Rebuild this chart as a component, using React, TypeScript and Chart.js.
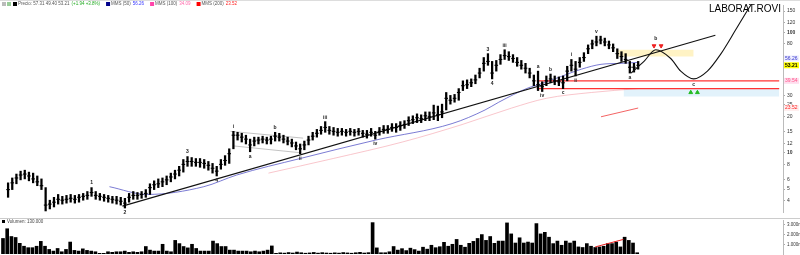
import React, { useEffect, useRef } from 'react';
import { Chart, registerables } from 'chart.js';

Chart.register(...registerables);

const FONT = '"Liberation Sans", Arial, sans-serif';

// Weekly price bars (high / low / close)
const highs = [
  5.63, 6.18, 6.66, 7.04, 7.17, 6.91, 6.78, 6.42, 6.07, 5.14,
  4.04, 4.27, 4.51, 4.35, 4.43, 4.51, 4.43, 4.51, 4.60, 4.77,
  5.14, 4.77, 4.60, 4.51, 4.43, 4.35, 4.35, 4.27, 4.19, 4.60,
  4.77, 4.68, 4.77, 4.95, 5.53, 5.85, 6.07, 6.18, 6.42, 6.78,
  7.17, 7.72, 8.79, 9.30, 9.13, 8.96, 8.96, 8.79, 8.47, 8.16,
  7.72, 8.79, 9.47, 10.79, 15.06, 14.79, 14.51, 13.99, 12.98, 13.48,
  13.48, 13.73, 13.48, 13.73, 14.79, 14.51, 13.99, 13.48, 12.98, 12.28,
  11.83, 12.51, 13.73, 14.79, 15.63, 16.53, 18.13, 16.53, 16.22, 15.93,
  15.93, 15.63, 15.93, 15.63, 15.93, 15.34, 15.34, 15.93, 15.06, 16.22,
  16.84, 16.84, 17.47, 17.47, 18.13, 18.47, 19.90, 20.27, 21.04, 20.65,
  21.83, 21.83, 24.86, 24.41, 25.33, 31.65, 29.93, 30.50, 34.09, 39.54,
  40.28, 41.04, 44.20, 50.33, 61.73, 66.48, 57.31, 58.38, 65.26, 71.61,
  69.00, 65.26, 61.73, 58.38, 55.22, 50.33, 44.20, 47.60, 38.81, 43.39,
  45.03, 43.39, 42.59, 43.39, 52.23, 59.48, 57.31, 61.73, 67.73, 78.57,
  86.21, 92.85, 92.85, 89.47, 84.62, 80.04, 72.95, 69.00, 66.48, 57.31,
  55.22, 57.31,
];
const lows = [
  4.27, 4.95, 5.53, 5.96, 6.07, 5.85, 5.63, 5.33, 4.95, 3.29,
  3.42, 3.55, 3.75, 3.75, 3.82, 3.89, 3.82, 3.89, 4.04, 4.11,
  4.35, 4.11, 4.04, 3.96, 3.89, 3.82, 3.75, 3.68, 3.48, 3.89,
  4.11, 4.11, 4.19, 4.27, 4.51, 4.95, 5.14, 5.23, 5.43, 5.74,
  6.07, 6.42, 6.91, 7.72, 7.72, 7.72, 7.58, 7.44, 7.17, 6.78,
  6.42, 7.31, 7.87, 8.16, 10.79, 12.75, 12.28, 11.83, 10.20, 11.40,
  11.83, 12.06, 11.83, 11.83, 12.51, 12.51, 12.06, 11.62, 11.19, 10.59,
  9.83, 10.59, 11.62, 12.75, 13.48, 14.25, 14.79, 14.25, 13.99, 13.73,
  13.99, 13.73, 13.99, 13.73, 13.99, 13.48, 13.23, 13.73, 12.98, 13.99,
  14.51, 14.51, 15.06, 14.79, 15.34, 15.93, 16.84, 17.47, 17.80, 17.80,
  18.47, 18.47, 18.82, 18.47, 19.53, 22.66, 25.33, 26.29, 27.28, 32.84,
  34.09, 35.37, 37.40, 41.81, 47.60, 53.21, 41.04, 47.60, 54.21, 59.48,
  58.38, 56.26, 52.23, 49.40, 45.87, 41.81, 36.04, 32.84, 32.24, 36.04,
  38.10, 36.71, 36.04, 34.09, 39.54, 47.60, 43.39, 51.27, 57.31, 66.48,
  72.95, 77.12, 80.04, 77.12, 72.95, 69.00, 60.59, 57.31, 55.22, 45.87,
  46.73, 49.40,
];
const closes = [
  4.95, 5.63, 6.18, 6.54, 6.66, 6.42, 6.07, 5.74, 5.33, 3.68,
  3.75, 3.89, 4.11, 4.04, 4.11, 4.19, 4.11, 4.27, 4.35, 4.43,
  4.68, 4.43, 4.35, 4.27, 4.19, 4.11, 4.04, 3.96, 3.82, 4.27,
  4.43, 4.43, 4.51, 4.60, 5.14, 5.43, 5.53, 5.74, 5.96, 6.30,
  6.66, 7.17, 8.01, 8.47, 8.47, 8.32, 8.32, 8.16, 7.87, 7.44,
  7.04, 8.01, 8.63, 9.83, 13.99, 13.99, 13.48, 12.98, 11.62, 12.51,
  12.75, 12.98, 12.75, 12.98, 13.73, 13.48, 12.98, 12.51, 12.06, 11.40,
  10.79, 11.62, 12.75, 13.73, 14.51, 15.34, 16.22, 15.34, 15.06, 14.79,
  15.06, 14.79, 15.06, 14.79, 15.06, 14.51, 14.25, 14.79, 13.99, 15.06,
  15.63, 15.63, 16.22, 16.22, 16.84, 17.15, 18.47, 18.82, 19.53, 19.17,
  20.27, 19.90, 21.43, 20.65, 21.83, 28.31, 27.28, 28.31, 31.65, 36.04,
  36.71, 38.10, 40.28, 45.87, 55.22, 57.31, 45.87, 53.21, 59.48, 64.06,
  62.88, 60.59, 56.26, 53.21, 50.33, 45.87, 39.54, 36.71, 35.37, 39.54,
  41.04, 39.54, 38.81, 38.10, 47.60, 53.21, 49.40, 56.26, 61.73, 72.95,
  80.04, 83.07, 86.21, 83.07, 78.57, 74.31, 66.48, 62.88, 59.48, 51.27,
  51.27, 53.21,
];
// Weekly volume, thousands of shares
const volumes = [
  1600, 2600, 1800, 1700, 1100, 800, 650, 650, 800, 1300,
  800, 470, 300, 570, 230, 470, 1230, 370, 300, 530,
  370, 300, 230, 70, 70, 230, 170, 230, 230, 300,
  170, 230, 170, 230, 770, 400, 300, 300, 1000, 300,
  230, 1400, 1070, 770, 630, 1000, 570, 300, 300, 300,
  1330, 1070, 770, 770, 400, 400, 300, 300, 300, 230,
  300, 230, 300, 400, 830, 70, 120, 90, 150, 100,
  200, 130, 80, 110, 160, 90, 140, 100, 80, 120,
  90, 150, 110, 80, 130, 170, 100, 140, 3230, 630,
  130, 130, 230, 770, 400, 550, 350, 600, 450, 300,
  700, 500, 900, 650, 750, 1200, 800, 1000, 1500, 900,
  700, 1100, 1300, 1600, 2000, 1400, 1800, 1100, 1330, 1330,
  3200, 2070, 1130, 1670, 1130, 1230, 1130, 3130, 2070, 2230,
  1730, 1070, 1330, 900, 1330, 1130, 1330, 730, 670, 1070,
  800, 670, 730, 800, 1070, 1070, 1230, 730, 1730, 1400,
  1130, 130,
];

// Moving averages (week index, price)
const blueMaIdx = [24.3, 33.3, 46.9, 54.8, 70, 88.1, 106.4, 114.3, 117.6, 124.8, 127.1, 131, 137.4, 142.1, 146.9, 151];
const blueMaVal = [5.23, 4.51, 5.23, 6.54, 8.96, 12.75, 17.47, 22.66, 26.29, 34.72, 36.71, 41.04, 49.4, 54.21, 55.22, 56.26];
const pinkMaIdx = [62.4, 77.9, 94.5, 108.8, 120.7, 129, 139.8, 151];
const pinkMaVal = [6.78, 8.96, 12.28, 17.15, 23.52, 28.31, 31.65, 34.09];
const redMaIdx = [142.1, 151];
const redMaVal = [19.9, 23.52];

// Long-term support trendline
const trendIdx = [27.4, 169.5];
const trendVal = [3.61, 94.59];
// Consolidation channel
const chanUpIdx = [53.3, 70.7];
const chanUpVal = [15.06, 13.23];
const chanLoIdx = [54, 70];
const chanLoVal = [11.4, 10.01];
// Support levels
const supportStart = 126.7;
const supportEnd = 184.8;
const supportHigh = 39.54;
const supportLow = 34.09;
const bandBottom = 29.38;
const bandStart = 147.5;
// Resistance zone
const zoneIdx = [146.2, 164.3];
const zoneTop = 71.61;
const zoneBottom = 62.88;
// Projected path b -> c -> up
const waveIdx = [149.3, 152.4, 155.2, 158.8, 161.2, 164.3, 167.6, 170.7, 174.3, 177.1, 178.3];
const waveVal = [45.87, 57.31, 71.61, 60.59, 47.6, 41.04, 47.6, 65.26, 103.8, 150.4, 174.4];
const sellIdx = [154.8, 156.5];
const sellVal = 77.12;
const buyIdx = [163.6, 165.2];
const buyVal = 31.65;

// Wave counts: text, bar index, above high / below low
const waveLabels: [string, number, string][] = [
  ['1', 20, 'hi'], ['2', 28, 'lo'], ['3', 43, 'hi'], ['4', 50, 'lo'],
  ['i', 54, 'hi'], ['a', 58, 'lo'], ['b', 64, 'hi'], ['ii', 70, 'lo'],
  ['iii', 76, 'hi'], ['iv', 88, 'lo'], ['3', 115, 'hi'], ['4', 116, 'lo'],
  ['iii', 119, 'hi'], ['a', 127, 'hi'], ['iv', 128, 'lo'], ['b', 130, 'hi'],
  ['c', 133, 'lo'], ['i', 135, 'hi'], ['ii', 136, 'lo'], ['v', 141, 'hi'],
  ['a', 149, 'lo'],
];

const priceTicks = [4, 5, 6, 8, 10, 12, 15, 20, 25, 30, 80, 100, 120, 150];
const volumeTicks = [1000, 2000, 3000];

const X_MIN = -0.714;
const X_MAX = 185.71;

const pts = (xs: number[], ys: number[]) => xs.map((x, k) => ({ x, y: ys[k] }));
const fmt = (v: number) => v.toFixed(2);

const lastClose = closes[closes.length - 1];
const prevClose = closes[closes.length - 2];

const priceOverlay = {
  id: 'priceOverlay',
  afterDatasetsDraw(chart: any) {
    const { ctx, scales } = chart;
    const x = scales.x;
    const y = scales.y;
    ctx.save();
    ctx.font = `bold 5px ${FONT}`;
    ctx.textAlign = 'center';
    ctx.fillStyle = '#222';
    for (const [t, i, side] of waveLabels) {
      const px = x.getPixelForValue(i);
      if (side === 'hi') {
        ctx.textBaseline = 'bottom';
        ctx.fillText(t, px, y.getPixelForValue(highs[i]) - 2);
      } else {
        ctx.textBaseline = 'top';
        ctx.fillText(t, px, y.getPixelForValue(lows[i]) + 2);
      }
    }
    // projected b / c
    ctx.textBaseline = 'bottom';
    ctx.fillText('b', x.getPixelForValue(waveIdx[2]), y.getPixelForValue(waveVal[2]) - 9);
    ctx.textBaseline = 'top';
    ctx.fillText('c', x.getPixelForValue(waveIdx[5]), y.getPixelForValue(waveVal[5]) + 3);
    ctx.restore();
  },
  afterDraw(chart: any) {
    const { ctx, scales } = chart;
    const y = scales.y;
    ctx.save();
    // title
    ctx.font = `10px ${FONT}`;
    ctx.fillStyle = '#000';
    ctx.textAlign = 'right';
    ctx.textBaseline = 'alphabetic';
    ctx.fillText('LABORAT.ROVI', 781, 12);

    // header line
    ctx.strokeStyle = '#ddd';
    ctx.lineWidth = 1;
    ctx.beginPath();
    ctx.moveTo(0, 0.5);
    ctx.lineTo(800, 0.5);
    ctx.stroke();
    ctx.font = `4.5px ${FONT}`;
    ctx.textAlign = 'left';
    ctx.textBaseline = 'middle';
    const hy = 4;
    let hx = 13;
    const item = (color: string, label: string, value: string, vcol: string) => {
      ctx.fillStyle = color;
      ctx.fillRect(hx, hy - 2, 4, 4);
      hx += 5;
      ctx.fillStyle = '#555';
      ctx.fillText(label, hx, hy);
      hx += ctx.measureText(label).width + 2;
      ctx.fillStyle = vcol;
      ctx.fillText(value, hx, hy);
      hx += ctx.measureText(value).width + 6;
    };
    ctx.fillStyle = '#bbb';
    ctx.fillRect(2, hy - 2, 4, 4);
    ctx.fillStyle = '#9c9';
    ctx.fillRect(7, hy - 2, 4, 4);
    const chg = lastClose - prevClose;
    item('#000', `Precio: ${fmt(highs[highs.length - 1])} ${fmt(lows[lows.length - 1])} ${fmt(lastClose)}`,
      `(+${fmt(chg)} +${((chg / prevClose) * 100).toFixed(1)}%)`, '#2a2');
    item('#00008b', 'MMS (50)', fmt(blueMaVal[blueMaVal.length - 1]), '#33f');
    item('#f4a', 'MMS (100)', fmt(pinkMaVal[pinkMaVal.length - 1]), '#f6a');
    item('#f00', 'MMS (200)', fmt(redMaVal[redMaVal.length - 1]), '#f22');

    // axis value tags
    const tag = (value: number, dy: number, bg: string, fg: string, bold: boolean) => {
      const py = y.getPixelForValue(value) + dy;
      ctx.fillStyle = bg;
      ctx.fillRect(784, py - 3, 15, 6);
      ctx.fillStyle = fg;
      ctx.font = `${bold ? 'bold ' : ''}5px ${FONT}`;
      ctx.textAlign = 'left';
      ctx.textBaseline = 'middle';
      ctx.fillText(fmt(value), 785, py);
    };
    tag(blueMaVal[blueMaVal.length - 1], -4, '#eef', '#33c', false);
    tag(lastClose, 0, '#ff0', '#000', true);
    tag(supportHigh, 0, '#fde', '#f58', false);
    tag(redMaVal[redMaVal.length - 1], 0, '#fee', '#f22', false);
    ctx.restore();
  },
};

const volumeOverlay = {
  id: 'volumeOverlay',
  afterDraw(chart: any) {
    const { ctx } = chart;
    ctx.save();
    ctx.strokeStyle = '#ccc';
    ctx.lineWidth = 1;
    ctx.beginPath();
    ctx.moveTo(0, 0.5);
    ctx.lineTo(800, 0.5);
    ctx.stroke();
    ctx.fillStyle = '#000';
    ctx.fillRect(2, 2, 3, 3);
    ctx.font = `4.5px ${FONT}`;
    ctx.fillStyle = '#444';
    ctx.textBaseline = 'middle';
    ctx.fillText(`Volumen: ${volumes[volumes.length - 1]}.000`, 7, 3.8);
    ctx.restore();
  },
};

export default function App() {
  const priceRef = useRef<HTMLCanvasElement>(null);
  const volRef = useRef<HTMLCanvasElement>(null);

  useEffect(() => {
    const idx = closes.map((_, i) => i);
    const lineDs = (data: any[], color: string, width: number, order: number, extra: any = {}) => ({
      type: 'line',
      data,
      borderColor: color,
      borderWidth: width,
      pointRadius: 0,
      fill: false,
      order,
      ...extra,
    });

    const price = new Chart(priceRef.current!, {
      type: 'bar',
      data: {
        datasets: [
          lineDs(pts([bandStart, supportEnd], [bandBottom, bandBottom]), 'rgba(0,0,0,0)', 0, 20, {
            fill: { value: supportLow }, backgroundColor: 'rgba(214,236,250,0.7)',
          }),
          lineDs(pts(zoneIdx, [zoneTop, zoneTop]), 'rgba(0,0,0,0)', 0, 19, {
            fill: { value: zoneBottom }, backgroundColor: 'rgba(255,232,140,0.5)',
          }),
          lineDs(pts(pinkMaIdx, pinkMaVal), 'rgba(245,160,170,0.6)', 1, 12, { cubicInterpolationMode: 'monotone' }),
          lineDs(pts(redMaIdx, redMaVal), 'rgba(240,60,60,0.8)', 1, 11),
          lineDs(pts(blueMaIdx, blueMaVal), 'rgba(90,90,200,0.8)', 1, 10, { cubicInterpolationMode: 'monotone' }),
          lineDs(pts(chanUpIdx, chanUpVal), '#999', 0.6, 9),
          lineDs(pts(chanLoIdx, chanLoVal), '#999', 0.6, 9),
          lineDs(pts([supportStart, supportEnd], [supportHigh, supportHigh]), '#f33', 1.3, 8),
          lineDs(pts([supportStart, supportEnd], [supportLow, supportLow]), '#f33', 1.3, 8),
          lineDs(pts(trendIdx, trendVal), '#111', 1.1, 7),
          {
            type: 'bar',
            data: idx.map((i) => ({ x: i, y: [lows[i], highs[i]] })),
            backgroundColor: '#000',
            borderWidth: 0,
            barThickness: 1.6,
            grouped: false,
            order: 3,
          },
          {
            type: 'line',
            data: idx.map((i) => ({ x: i, y: closes[i] })),
            showLine: false,
            pointStyle: 'line',
            pointRadius: 1.8,
            pointBorderWidth: 1.1,
            pointBorderColor: '#000',
            borderColor: '#000',
            order: 2,
          },
          lineDs(pts(waveIdx, waveVal), '#111', 1.1, 1, { cubicInterpolationMode: 'monotone' }),
          {
            type: 'line',
            data: sellIdx.map((x) => ({ x, y: sellVal })),
            showLine: false,
            pointStyle: 'triangle',
            rotation: 180,
            pointRadius: 2.2,
            backgroundColor: '#e22',
            borderColor: '#e22',
            order: 0,
          },
          {
            type: 'line',
            data: buyIdx.map((x) => ({ x, y: buyVal })),
            showLine: false,
            pointStyle: 'triangle',
            pointRadius: 2.2,
            backgroundColor: '#2b2',
            borderColor: '#2b2',
            order: 0,
          },
        ] as any,
      },
      options: {
        responsive: false,
        devicePixelRatio: 1,
        animation: false,
        layout: { padding: { top: 2, bottom: 2, left: 0, right: 0 } },
        plugins: { legend: { display: false }, tooltip: { enabled: false } },
        scales: {
          x: { type: 'linear', min: X_MIN, max: X_MAX, offset: false, display: false },
          y: {
            type: 'logarithmic',
            position: 'right',
            min: 3.17,
            max: 168.1,
            afterBuildTicks: (sc: any) => {
              sc.ticks = priceTicks.map((v) => ({ value: v }));
            },
            afterFit: (sc: any) => {
              sc.width = 17;
              sc.paddingTop = 0;
              sc.paddingBottom = 0;
            },
            ticks: {
              autoSkip: false,
              padding: 2,
              color: '#333',
              font: (c: any) => ({
                size: 5,
                family: FONT,
                weight: c.tick && (c.tick.value === 10 || c.tick.value === 100) ? 'bold' : 'normal',
              }),
              callback: (v: any) => String(v),
            },
            grid: { drawOnChartArea: false, tickLength: 2, color: '#aaa' },
            border: { color: '#bbb' },
          },
        },
      } as any,
      plugins: [priceOverlay],
    });

    const volume = new Chart(volRef.current!, {
      type: 'bar',
      data: {
        datasets: [
          {
            type: 'line',
            data: pts([141, 147.7], [730, 1500]),
            borderColor: '#e22',
            borderWidth: 1,
            pointRadius: 0,
            order: 0,
          },
          {
            type: 'bar',
            data: idx.map((i) => ({ x: i, y: volumes[i] })),
            backgroundColor: '#000',
            borderWidth: 0,
            barThickness: 3,
            grouped: false,
            order: 1,
          },
        ] as any,
      },
      options: {
        responsive: false,
        devicePixelRatio: 1,
        animation: false,
        layout: { padding: { top: 2, bottom: 1, left: 0, right: 0 } },
        plugins: { legend: { display: false }, tooltip: { enabled: false } },
        scales: {
          x: { type: 'linear', min: X_MIN, max: X_MAX, offset: false, display: false },
          y: {
            position: 'right',
            min: 0,
            max: 3500,
            afterBuildTicks: (sc: any) => {
              sc.ticks = volumeTicks.map((v) => ({ value: v }));
            },
            afterFit: (sc: any) => {
              sc.width = 17;
              sc.paddingTop = 0;
              sc.paddingBottom = 0;
            },
            ticks: {
              autoSkip: false,
              padding: 2,
              color: '#333',
              font: { size: 4.5, family: FONT },
              callback: (v: any) => `${(v / 1000).toFixed(3)}m`,
            },
            grid: { drawOnChartArea: false, tickLength: 2, color: '#aaa' },
            border: { color: '#bbb' },
          },
        },
      } as any,
      plugins: [volumeOverlay],
    });

    return () => {
      price.destroy();
      volume.destroy();
    };
  }, []);

  return (
    <div style={{ position: 'fixed', left: 0, top: 0, width: 800, height: 255, background: '#fff', overflow: 'hidden' }}>
      <canvas ref={priceRef} width={800} height={218} style={{ position: 'absolute', left: 0, top: 0, width: 800, height: 218 }} />
      <canvas ref={volRef} width={800} height={37} style={{ position: 'absolute', left: 0, top: 218, width: 800, height: 37 }} />
    </div>
  );
}
